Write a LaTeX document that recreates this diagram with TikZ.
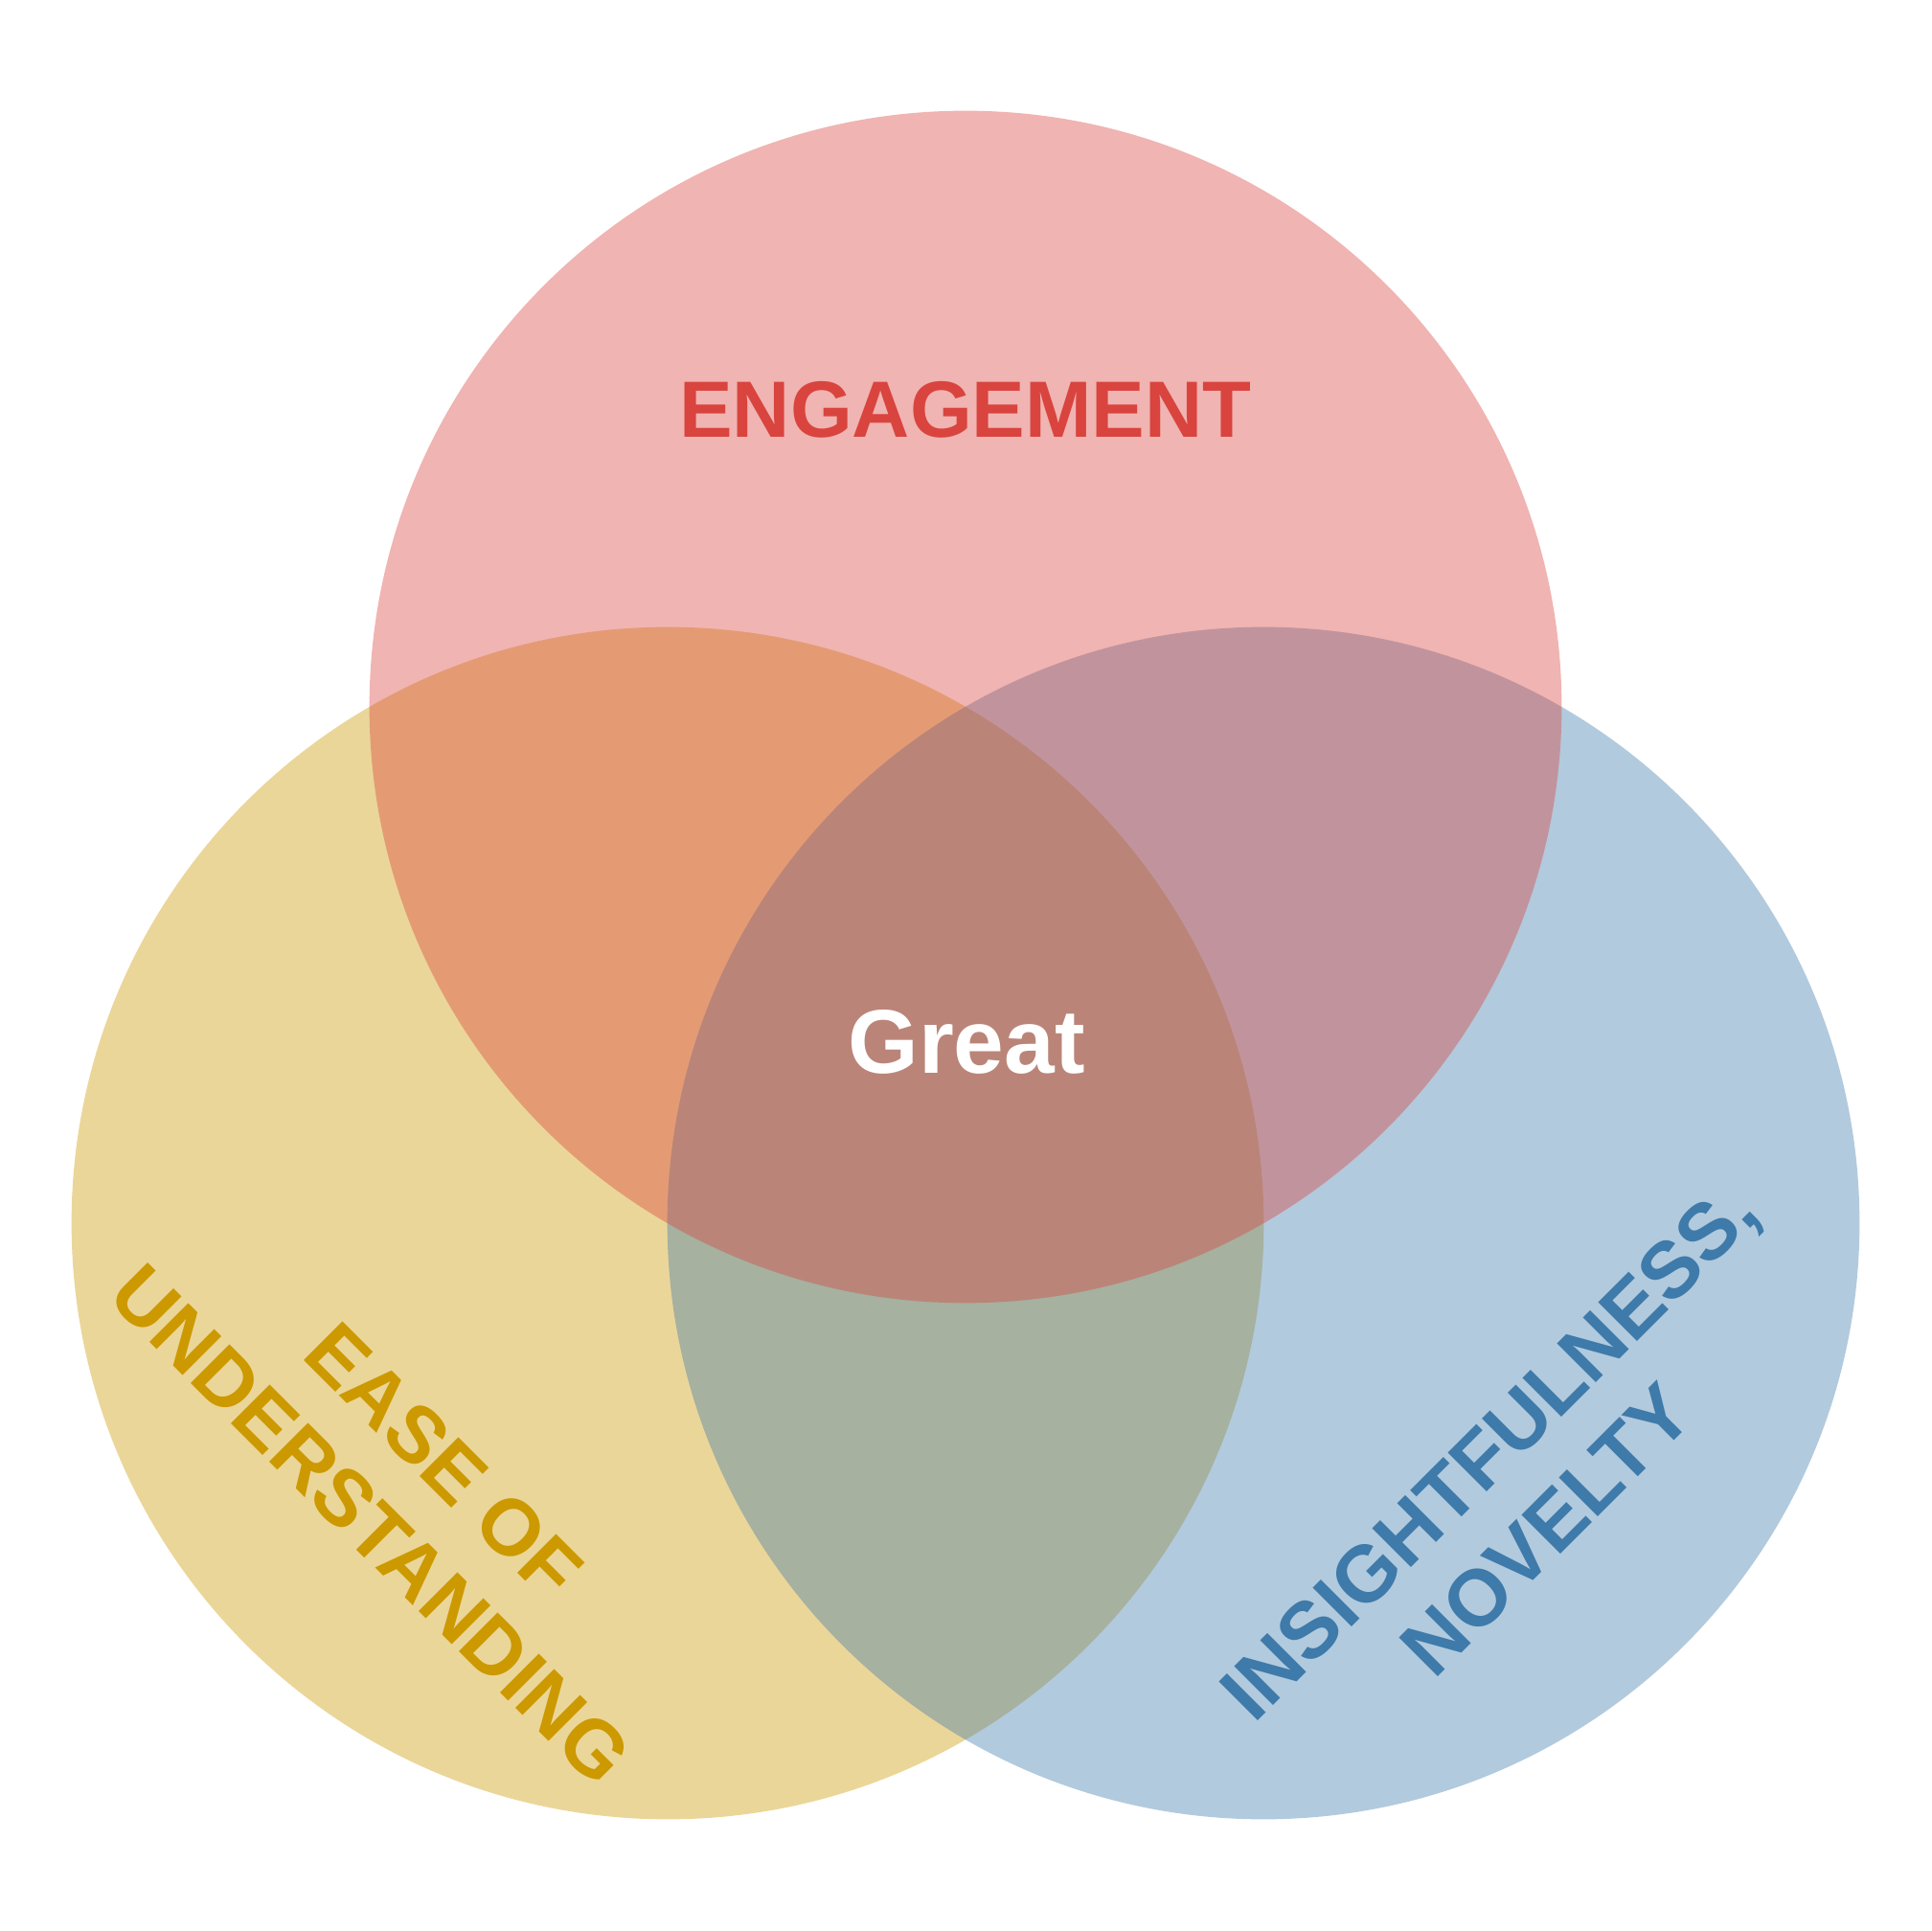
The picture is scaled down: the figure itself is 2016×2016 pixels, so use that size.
\documentclass[tikz,border=0pt]{standalone}
\usepackage{fontspec}
\setmainfont{Liberation Sans}
\begin{document}
\definecolor{vred}{RGB}{217,68,62}
\definecolor{vgold}{RGB}{204,153,0}
\definecolor{vblue}{RGB}{62,122,170}
\begin{tikzpicture}[x=0.01cm, y=-0.01cm,
  venn/.style={circle, draw=none, fill opacity=0.4, minimum size=12.44cm, inner sep=0pt},
  setlabel/.style={inner sep=0pt, anchor=base, font=\fontsize{23.7}{28.4}\selectfont\bfseries},
  centrelabel/.style={inner sep=0pt, anchor=base, text=white, font=\fontsize{26.9}{32}\selectfont\bfseries}]
  \useasboundingbox (0,0) rectangle (2016,2016);
  % the three sets, drawn gold, blue, red so that red lies on top
  \node[venn, fill=vgold] (ease)    at (697,1277) {};
  \node[venn, fill=vblue] (insight) at (1319,1277) {};
  \node[venn, fill=vred]  (engage)  at (1008,738) {};
  % labels
  \node[setlabel, text=vred] (engagelbl) at (1008,456.5) {ENGAGEMENT};
  \node[centrelabel] (great) at (1009,1120) {Great};
  \node[setlabel, text=vgold, rotate=-45] (easeA) at (443,1545.5) {EASE OF};
  \node[setlabel, text=vgold, rotate=-45] (easeB) at (366.6,1611.7) {UNDERSTANDING};
  \node[setlabel, text=vblue, rotate=45] (insA) at (1574.2,1535.5) {INSIGHTFULNESS,};
  \node[setlabel, text=vblue, rotate=45] (insB) at (1634.5,1617.2) {NOVELTY};
\end{tikzpicture}
\end{document}
